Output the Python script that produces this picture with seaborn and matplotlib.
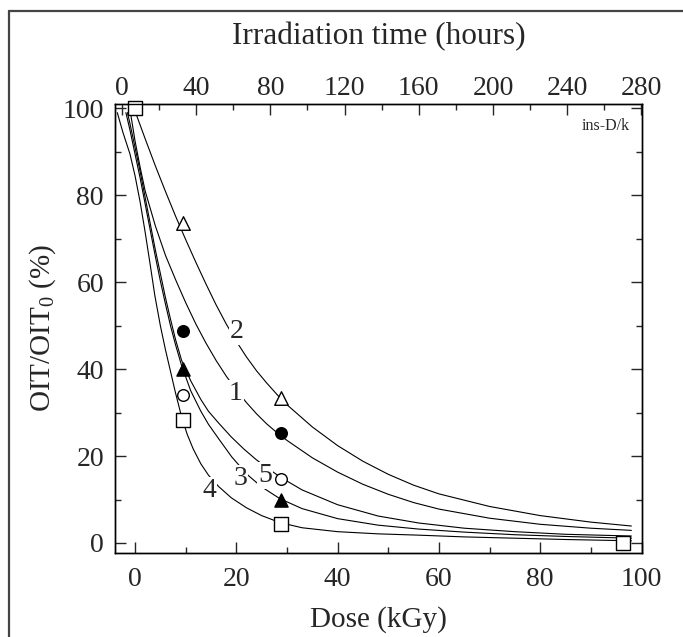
import pandas as pd
import matplotlib
matplotlib.use("Agg")
import matplotlib.pyplot as plt
from matplotlib.ticker import MultipleLocator
from matplotlib.lines import Line2D
import seaborn as sns

# measured points (dose in kGy, OIT/OIT0 in %)
dose_pts = [0, 9.5, 28.8]
oit_1 = [100, 48.7, 25.3]   # filled circle
oit_2 = [100, 73.5, 33.4]   # open triangle
oit_3 = [100, 40.0, 10.0]   # filled triangle
oit_5 = [100, 34.0, 14.7]   # open circle
dose_4 = [0, 9.5, 28.8, 96.3]
oit_4 = [100, 28.3, 4.4, 0.0]  # open square

# fitted curves
fit1_dose = [-0.9, 0, 1, 2, 4, 6, 8, 10, 12, 14, 16, 18, 20, 22, 24, 26, 28, 30, 35, 40, 45, 50, 55, 60, 70, 80, 90, 98]
fit1_val = [99, 92.5, 86.5, 81, 73, 66.2, 60.6, 55.3, 50.4, 46, 42, 38.4, 35.2, 32.3, 29.7, 27.4, 25.4, 23.6, 19.6, 16.3, 13.5, 11.2, 9.3, 7.8, 5.7, 4.3, 3.4, 2.9]
fit2_dose = [-0.2, 2, 4, 6, 8, 10, 12, 14, 16, 18, 20, 22, 24, 26, 28, 30, 35, 40, 45, 50, 55, 60, 70, 80, 90, 98]
fit2_val = [100, 93, 86.8, 80.9, 75.2, 69.8, 64.6, 59.6, 54.8, 50.4, 46.4, 42.8, 39.6, 36.8, 34.2, 31.8, 26.7, 22.4, 18.8, 15.8, 13.3, 11.3, 8.4, 6.3, 4.8, 3.9]
fit3_dose = [-1.8, -1, 0, 1, 2, 3, 4, 5, 6, 7, 8, 9.2, 11, 13, 14.5, 16.5, 19.1, 22.1, 25, 28.6, 33, 40, 48, 56, 65, 75, 85, 98]
fit3_val = [99, 95, 89.5, 84, 78, 72, 66, 60.3, 55, 50, 45.6, 40.8, 35, 30.3, 27.3, 24, 19.8, 15.8, 12.9, 10.2, 7.9, 5.6, 4.1, 3.2, 2.5, 1.9, 1.5, 1.1]
fit4_dose = [-3.5, -2.4, -1, 0, 1, 2, 3, 3.9, 5, 6, 7, 8, 9.2, 10.3, 11.5, 13, 14.5, 16.5, 19, 22, 25, 28.6, 33, 40, 48, 56, 65, 75, 85, 98]
fit4_val = [99, 94.5, 89.5, 84.5, 78.5, 71.5, 64, 57, 50, 44.5, 39.5, 34.5, 29, 25, 21.6, 18.2, 15.6, 13, 10.4, 8.1, 6.3, 4.7, 3.5, 2.6, 2.1, 1.8, 1.4, 1.1, 0.8, 0.5]
fit5_dose = [-1.5, -1, 0, 1, 2, 3, 4, 5, 6, 7, 8, 9.2, 11, 13, 14.5, 16.5, 19, 21.5, 24, 26, 28.6, 33, 40, 48, 56, 65, 75, 85, 98]
fit5_val = [99, 96.5, 91, 85.5, 79.5, 73.5, 67.5, 62, 56.5, 51.5, 46.8, 42, 37.3, 33, 30.3, 27.6, 24.4, 21.6, 19.1, 17.4, 15.2, 12.2, 8.8, 6.2, 4.6, 3.4, 2.6, 2.0, 1.6]

curve_labels = ["1", "2", "3", "4", "5"]
label_x = [19.9, 20.1, 20.8, 14.6, 25.7]
label_y = [34.4, 48.6, 14.9, 12.0, 15.6]

hour_ticks = list(range(0, 281, 40))

fits = pd.concat([
    pd.DataFrame({"dose": d, "val": v, "curve": c})
    for d, v, c in [(fit1_dose, fit1_val, 1), (fit2_dose, fit2_val, 2), (fit3_dose, fit3_val, 3),
                    (fit4_dose, fit4_val, 4), (fit5_dose, fit5_val, 5)]
])

sns.set_style("ticks")
plt.rcParams['font.family'] = ['Liberation Serif', 'DejaVu Serif']
plt.rcParams['mathtext.fontset'] = 'custom'
plt.rcParams['mathtext.rm'] = 'Liberation Serif'

fig = plt.figure(figsize=(6.83, 6.37), dpi=100)
ax = fig.add_axes([0.1684, 0.1319, 0.7716, 0.7049])

sns.lineplot(data=fits, x="dose", y="val", units="curve", estimator=None, sort=False,
             color="black", lw=0.8, ax=ax, zorder=2)

mk = dict(ax=ax, zorder=4, linewidth=1.0, edgecolor="black", legend=False, clip_on=False)
sns.scatterplot(x=dose_pts, y=oit_1, marker="o", s=70, color="black", **mk)
sns.scatterplot(x=dose_pts, y=oit_3, marker="^", s=90, color="black", **mk)
sns.scatterplot(x=dose_pts, y=oit_2, marker="^", s=95, facecolor="white", **mk)
sns.scatterplot(x=dose_pts, y=oit_5, marker="o", s=70, facecolor="white", **mk)
sns.scatterplot(x=dose_4, y=oit_4, marker="s", s=95, facecolor="white", **mk)

for t, x, y in zip(curve_labels, label_x, label_y):
    ax.text(x, y, t, fontsize=20, ha="center", va="center", zorder=3,
            bbox=dict(facecolor="white", edgecolor="none", pad=0.5))

ax.text(0.977, 0.95, "ins-D/k", transform=ax.transAxes, fontsize=11.5, ha="right", va="center")

ax.set_xlim(-3.95, 100.1)
ax.set_ylim(-2.3, 101.0)
ax.xaxis.set_major_locator(MultipleLocator(20))
ax.xaxis.set_minor_locator(MultipleLocator(10))
ax.yaxis.set_major_locator(MultipleLocator(20))
ax.yaxis.set_minor_locator(MultipleLocator(10))
ax.tick_params(which="both", direction="in", width=1, right=True, labelsize=20)
ax.tick_params(axis="x", pad=10)
ax.tick_params(axis="y", pad=8)
ax.tick_params(which="major", length=8)
ax.tick_params(which="minor", length=4)
ax.set_xlabel("Dose (kGy)", fontsize=21, labelpad=10)
ax.set_ylabel(r"OIT/OIT$\mathregular{_0}$ (%)", fontsize=21, labelpad=3)

ax2 = ax.twiny()
ax2.set_xlim(-3.7, 280.3)
ax2.set_xticks(hour_ticks)
ax2.xaxis.set_minor_locator(MultipleLocator(20))
ax2.tick_params(which="both", direction="in", width=1, labelsize=20, pad=2)
ax2.tick_params(which="major", length=8)
ax2.tick_params(which="minor", length=4)
ax2.set_xlabel("Irradiation time (hours)", fontsize=22.5, labelpad=23)

for a in (ax, ax2):
    for sp in a.spines.values():
        sp.set_linewidth(1.0)
        sp.set_color("black")

fy = 1 - 11 / 637
fx = 8.5 / 683
fig.add_artist(Line2D([fx, fx], [0, fy], transform=fig.transFigure, color="#444444", lw=1.6))
fig.add_artist(Line2D([fx, 1], [fy, fy], transform=fig.transFigure, color="#444444", lw=1.6))

fig.savefig("out.png", dpi=100)
